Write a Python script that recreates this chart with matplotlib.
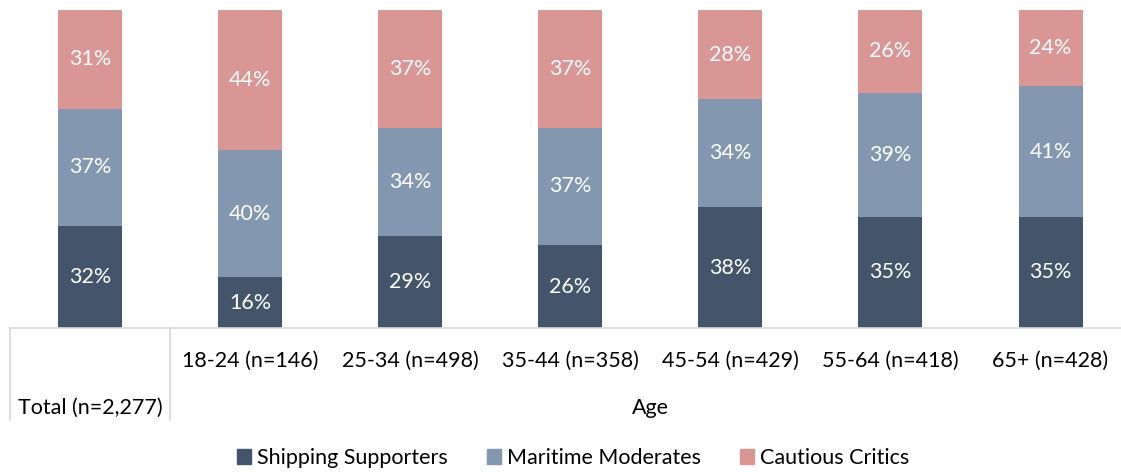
import matplotlib.pyplot as plt
from matplotlib.lines import Line2D
from matplotlib.patches import Patch
import matplotlib.transforms as mtransforms

plt.rcParams['font.family'] = ['Lato', 'DejaVu Sans']

# Data
categories = ['Total (n=2,277)', '18-24 (n=146)', '25-34 (n=498)', '35-44 (n=358)',
              '45-54 (n=429)', '55-64 (n=418)', '65+ (n=428)']
shipping_supporters = [32, 16, 29, 26, 38, 35, 35]
maritime_moderates = [37, 40, 34, 37, 34, 39, 41]
cautious_critics = [31, 44, 37, 37, 28, 26, 24]
group_label = 'Age'

series = [('Shipping Supporters', shipping_supporters, '#44546A'),
          ('Maritime Moderates', maritime_moderates, '#8497B0'),
          ('Cautious Critics', cautious_critics, '#DA9694')]

W, H = 1121, 472
fig = plt.figure(figsize=(W / 100, H / 100), dpi=100)
ax = fig.add_axes([10 / W, 144 / H, 1111 / W, 318 / H])

FS = 15.5

x = list(range(len(categories)))
bottom = [0] * len(categories)
for name, vals, col in series:
    ax.bar(x, vals, width=0.4, bottom=bottom, color=col, label=name)
    for xi, b, v in zip(x, bottom, vals):
        ax.text(xi, b + v / 2, f'{v}%', ha='center', va='center',
                color='white', fontsize=FS)
    bottom = [b + v for b, v in zip(bottom, vals)]

ax.set_xlim(-0.5, 6.44)
ax.set_ylim(0, 100)
ax.set_yticks([])
ax.set_xticks([])
for s in ['top', 'right', 'left']:
    ax.spines[s].set_visible(False)
ax.spines['bottom'].set_color('#D9D9D9')
ax.spines['bottom'].set_linewidth(1.2)

# multi-level category labels
tr = mtransforms.blended_transform_factory(ax.transData, ax.transAxes)
ax.text(0, -0.252, categories[0], transform=tr, ha='center', va='center', fontsize=FS)
for xi, lab in zip(x[1:], categories[1:]):
    ax.text(xi, -0.104, lab, transform=tr, ha='center', va='center', fontsize=FS)
ax.text(3.5, -0.252, group_label, transform=tr, ha='center', va='center', fontsize=FS)

for xs in [-0.5, 0.5]:
    ax.add_line(Line2D([xs, xs], [0, -0.29], transform=tr, color='#D9D9D9',
                       linewidth=1.2, clip_on=False))

handles = [Patch(color=c, label=n) for n, _, c in series]
fig.legend(handles=handles, loc='center', bbox_to_anchor=(573 / W, 14 / H), ncol=3,
           frameon=False, fontsize=FS, handlelength=0.65, handleheight=0.65,
           handletextpad=0.3, columnspacing=1.8)

fig.savefig('out.png', dpi=100)
